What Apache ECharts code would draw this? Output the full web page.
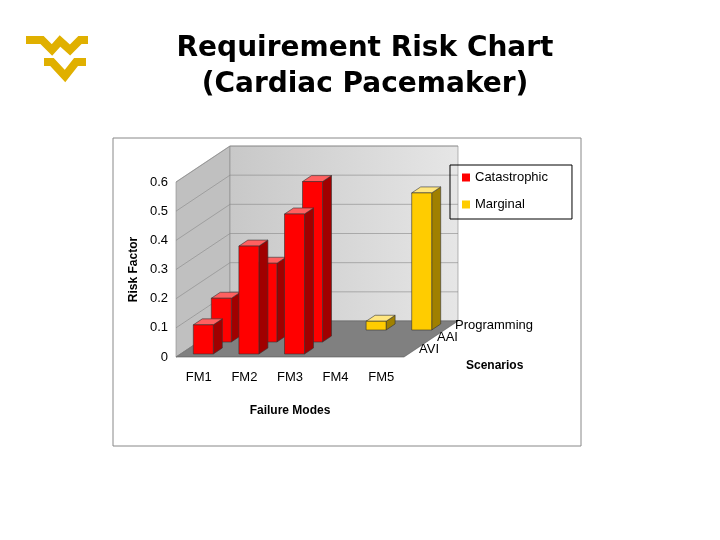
<!DOCTYPE html>
<html><head><meta charset="utf-8">
<script src="https://cdn.jsdelivr.net/npm/echarts@6/dist/echarts.min.js"></script>
<style>body{margin:0;background:#fff}#c{width:720px;height:540px}</style>
</head><body><div id="c"></div>
<script>
var modes = ['FM1', 'FM2', 'FM3', 'FM4', 'FM5'];
var scenarios = ['AVI', 'AAI', 'Programming'];
// [mode index, scenario index, value]
var catastrophic = [[0, 1, 0.15], [1, 1, 0.27], [2, 1, 0.55], [0, 0, 0.1], [1, 0, 0.37], [2, 0, 0.48]];
var marginal = [[3, 2, 0.03], [4, 2, 0.47]];
var yTicks = [0, 0.1, 0.2, 0.3, 0.4, 0.5, 0.6];

var DX = 18, DY = -12; // one scenario row of depth

function boxItem(front, side, top) {
  return function (params, api) {
    var m = api.value(0), r = api.value(1), v = api.value(2);
    var base = api.coord([m, 0]), tp = api.coord([m, v]);
    var w = 20;
    var ox = (r + 0.25) * DX, oy = (r + 0.25) * DY;
    var dx = DX * 0.5, dy = DY * 0.5;
    var x0 = base[0] - w / 2 + ox, x1 = x0 + w, yb = base[1] + oy, yt = tp[1] + oy;
    var st = {stroke: '#333', lineWidth: 0.6};
    return {type: 'group', children: [
      {type: 'polygon', shape: {points: [[x1, yt], [x1 + dx, yt + dy], [x1 + dx, yb + dy], [x1, yb]]}, style: Object.assign({fill: side}, st)},
      {type: 'polygon', shape: {points: [[x0, yt], [x1, yt], [x1 + dx, yt + dy], [x0 + dx, yt + dy]]}, style: Object.assign({fill: top}, st)},
      {type: 'rect', shape: {x: x0, y: yt, width: w, height: yb - yt}, style: Object.assign({fill: front}, st)}
    ]};
  };
}

function walls(params, api) {
  var cs = params.coordSys;
  var x0 = cs.x, x1 = cs.x + cs.width, y0 = cs.y + cs.height, yT = cs.y;
  var Dx = DX * 3, Dy = DY * 3;
  var ch = [
    {type: 'polygon', shape: {points: [[x0, yT], [x0 + Dx, yT + Dy], [x0 + Dx, y0 + Dy], [x0, y0]]}, style: {fill: '#c0c0c0', stroke: '#888', lineWidth: 0.6}},
    {type: 'polygon', shape: {points: [[x0 + Dx, yT + Dy], [x1 + Dx, yT + Dy], [x1 + Dx, y0 + Dy], [x0 + Dx, y0 + Dy]]},
      style: {fill: new echarts.graphic.LinearGradient(0, 0, 1, 0, [{offset: 0, color: '#c8c8c8'}, {offset: 1, color: '#e6e6e6'}]), stroke: '#888', lineWidth: 0.6}},
    {type: 'polygon', shape: {points: [[x0, y0], [x1, y0], [x1 + Dx, y0 + Dy], [x0 + Dx, y0 + Dy]]}, style: {fill: '#808080', stroke: '#555', lineWidth: 0.6}}
  ];
  yTicks.forEach(function (t) {
    var y = api.coord([0, t])[1];
    ch.push({type: 'polyline', shape: {points: [[x0, y], [x0 + Dx, y + Dy], [x1 + Dx, y + Dy]]}, style: {stroke: '#888', lineWidth: 0.6, fill: null}});
  });
  scenarios.forEach(function (s, i) {
    ch.push({type: 'text', x: x1 + DX * (i + 0.5) + 6, y: y0 + DY * (i + 0.5) - 2,
      style: {text: s, fill: '#000', font: '13px "Liberation Sans"', textVerticalAlign: 'middle'}});
  });
  return {type: 'group', children: ch};
}

var chart = echarts.init(document.getElementById('c'));
chart.setOption({
  animation: false,
  title: {text: 'Requirement Risk Chart\n(Cardiac Pacemaker)', left: 360, textAlign: 'center', top: 26,
    textStyle: {fontFamily: 'DejaVu Sans', fontWeight: 'bold', fontSize: 28, lineHeight: 36, color: '#000'}},
  grid: {left: 176, top: 182, width: 228, height: 175},
  legend: {orient: 'vertical', left: 450, top: 165, itemWidth: 8, itemHeight: 8, itemGap: 14, icon: 'rect',
    padding: [6, 24, 8, 12], borderColor: '#000', borderWidth: 1,
    textStyle: {fontFamily: 'Liberation Sans', fontSize: 13, color: '#000'},
    data: ['Catastrophic', 'Marginal']},
  xAxis: {type: 'category', data: modes, axisLine: {show: false}, axisTick: {show: false},
    axisLabel: {fontFamily: 'Liberation Sans', fontSize: 13, color: '#000', margin: 14},
    name: 'Failure Modes', nameLocation: 'middle', nameGap: 48,
    nameTextStyle: {fontFamily: 'Liberation Sans', fontWeight: 'bold', fontSize: 12, color: '#000'}},
  yAxis: {type: 'value', min: 0, max: 0.6, interval: 0.1, splitLine: {show: false}, axisLine: {show: false},
    axisLabel: {fontFamily: 'Liberation Sans', fontSize: 13, color: '#000', margin: 8},
    name: 'Risk Factor', nameLocation: 'middle', nameGap: 36,
    nameTextStyle: {fontFamily: 'Liberation Sans', fontWeight: 'bold', fontSize: 12, color: '#000'}},
  graphic: [
    {type: 'rect', shape: {x: 113, y: 138, width: 468, height: 308}, style: {fill: null, stroke: '#888', lineWidth: 1}, z: -10},
    {type: 'text', x: 466, y: 360, style: {text: 'Scenarios', font: 'bold 12px "Liberation Sans"', fill: '#000'}},
    {type: 'polyline', shape: {points: [[26, 40], [42, 40], [52, 50], [60, 41], [70, 50], [80, 40], [88, 40]]},
      style: {stroke: '#e0b000', lineWidth: 8, fill: null, lineJoin: 'miter'}},
    {type: 'polyline', shape: {points: [[44, 62], [52, 62], [65, 76], [76, 62], [86, 62]]},
      style: {stroke: '#e0b000', lineWidth: 8, fill: null, lineJoin: 'miter'}}
  ],
  series: [
    {type: 'custom', name: 'walls', data: [[0, 0, 0]], renderItem: walls, silent: true, z: 1},
    {type: 'custom', name: 'Catastrophic', data: catastrophic, itemStyle: {color: '#ff0000'},
      renderItem: boxItem('#ff0000', '#a00000', '#ff6060'), z: 2},
    {type: 'custom', name: 'Marginal', data: marginal, itemStyle: {color: '#ffcc00'},
      renderItem: boxItem('#ffcc00', '#a08000', '#ffe680'), z: 2}
  ]
});
</script></body></html>
